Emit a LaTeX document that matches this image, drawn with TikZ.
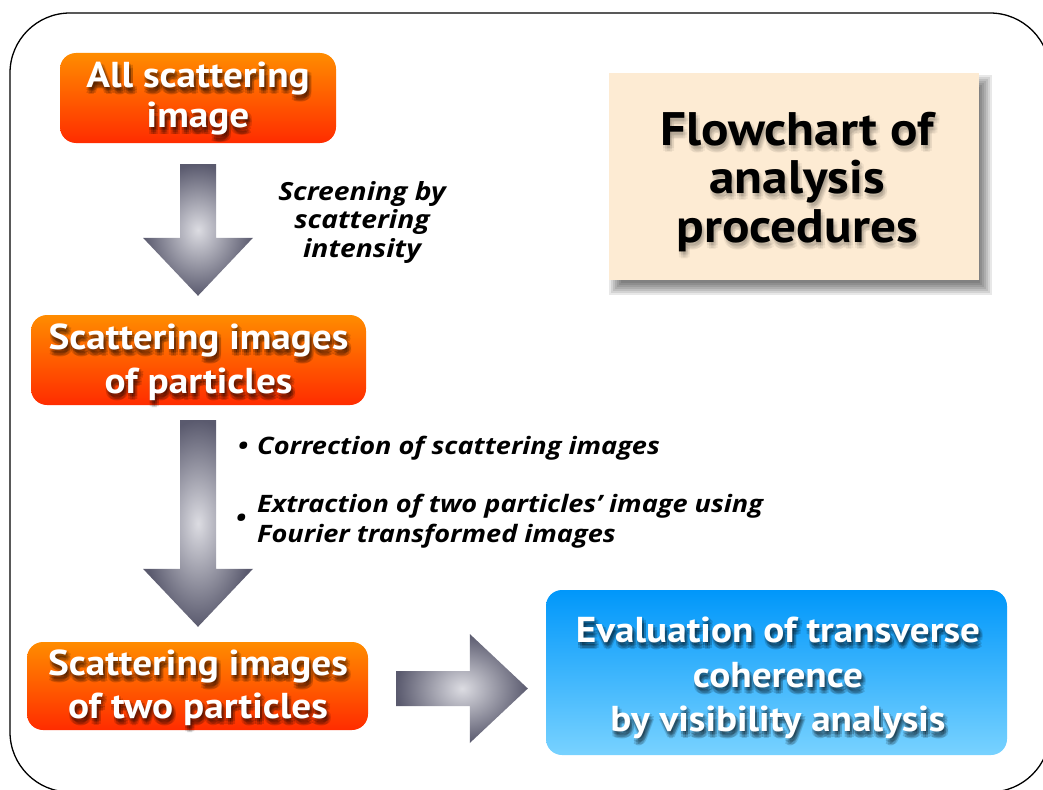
\documentclass[tikz,border=0pt]{standalone}
\usepackage{fontspec}
\setmainfont{PT Sans}
\newfontfamily\boxfont[FakeStretch=1.09]{PT Sans}
\newfontfamily\labfont[FakeStretch=1.13]{Open Sans}
\usetikzlibrary{calc}
\definecolor{otop}{HTML}{FF8C00}
\definecolor{obot}{HTML}{FF2C00}
\definecolor{btop}{HTML}{0097FA}
\definecolor{bbot}{HTML}{78D2FF}
\definecolor{beige}{HTML}{FDEBD3}
\definecolor{ain}{HTML}{DCDCE2}
\definecolor{aout}{HTML}{5A5A6E}
% name, x, y, text, style, anchor, shadow opacity
\newcommand\shline[7]{%
  \foreach \sx/\sy [count=\k] in {2/4,0/3,4/3,0/6,4/6,2/1.5,2/7}{%
    \node[#5, text=black, text opacity=#7, anchor=#6] (#1s\k) at (#2+\sx,#3+\sy) {#4};}
  \node[#5, anchor=#6] (#1) at (#2,#3) {#4};}
\newcommand\vblockarrow[3]{%
  \shade[arrowshade] ($(#1)+(-18,0)$) -- ($(#1)+(18,0)$) -- ($(#2)+(18,-#3)$) -- ($(#2)+(55,-#3)$) -- (#2) -- ($(#2)+(-55,-#3)$) -- ($(#2)+(-18,-#3)$) -- cycle;}
\newcommand\hblockarrow[3]{%
  \shade[arrowshade] ($(#1)+(0,-17.5)$) -- ($(#2)+(-#3,-17.5)$) -- ($(#2)+(-#3,-54.5)$) -- (#2) -- ($(#2)+(-#3,54.5)$) -- ($(#2)+(-#3,17.5)$) -- ($(#1)+(0,17.5)$) -- cycle;}
\begin{document}
\begin{tikzpicture}[x=1pt,y=-1pt,
  obox/.style={rounded corners=16pt, top color=otop, bottom color=obot, draw=none, inner sep=0pt},
  bbox/.style={rounded corners=16pt, top color=btop, bottom color=bbot, draw=none, inner sep=0pt},
  tbox/.style={fill=beige, draw=none, inner sep=0pt},
  wtext/.style={font=\boxfont\fontsize{36}{40}\selectfont\bfseries, text=white, inner sep=0pt},
  ttext/.style={font=\boxfont\fontsize{47}{50}\selectfont\bfseries, text=black, inner sep=0pt},
  itext/.style={font=\labfont\fontsize{25}{30}\selectfont\bfseries\itshape, text=black, inner sep=0pt},
  ltext/.style={font=\labfont\fontsize{24}{30}\selectfont\bfseries\itshape, text=black, inner sep=0pt},
  arrowshade/.style={inner color=ain, outer color=aout},
  frame/.style={draw=black, line width=1.3pt, rounded corners=60pt}]
\useasboundingbox (0,0) rectangle (1043,789);
\fill[white] (0,0) rectangle (1043,789);
\clip (0,0) rectangle (1043,789);
\draw[frame] (10,13) rectangle (1050,792);

% boxes
\node[obox, minimum width=276, minimum height=90] (b1) at (198,98) {};
\node[obox, minimum width=335, minimum height=90] (b2) at (198.5,360) {};
\node[obox, minimum width=341, minimum height=88] (b3) at (197.5,686) {};
\node[bbox, minimum width=461, minimum height=165] (b4) at (776.5,672.5) {};
\coordinate (tc) at (794,176.5);
\foreach \r in {0,2,...,12}{\fill[black, opacity=0.09] ($(tc)+(-185+12-\r,-103.5+14-\r)$) rectangle ($(tc)+(185+\r+1,103.5+\r+3)$);}
\node[tbox, minimum width=370, minimum height=207] (t) at (tc) {};

% arrows
\coordinate (a1s) at ($(b1.south)+(0,21)$);
\coordinate (a1e) at ($(b2.north)+(-0.5,-19)$);
\vblockarrow{a1s}{a1e}{58}
\coordinate (a2s) at ($(b2.south)+(-0.5,15)$);
\coordinate (a2e) at ($(b3.north)+(0.5,-15)$);
\vblockarrow{a2s}{a2e}{58}
\coordinate (a3s) at ($(b3.east)+(28,2.5)$);
\coordinate (a3e) at ($(b4.west)+(-18,16)$);
\hblockarrow{a3s}{a3e}{58}

% box texts
\shline{l1a}{198}{88}{All scattering}{wtext}{base}{0.14}
\shline{l1b}{198}{128}{image}{wtext}{base}{0.14}
\shline{l2a}{198.5}{349}{Scattering images}{wtext}{base}{0.14}
\shline{l2b}{198.5}{393}{of particles}{wtext}{base}{0.14}
\shline{l3a}{198}{675}{Scattering images}{wtext}{base}{0.14}
\shline{l3b}{198}{718}{of two particles}{wtext}{base}{0.14}
\shline{l4a}{778}{642}{Evaluation of transverse}{wtext}{base}{0.14}
\shline{l4b}{778}{687}{coherence}{wtext}{base}{0.14}
\shline{l4c}{778}{731}{by visibility analysis}{wtext}{base}{0.14}
\shline{t1}{797}{145}{Flowchart of}{ttext}{base}{0.05}
\shline{t2}{797}{193}{analysis}{ttext}{base}{0.05}
\shline{t3}{797}{242}{procedures}{ttext}{base}{0.05}

% labels
\node[itext, anchor=base] (s1) at (362,200) {Screening by};
\node[itext, anchor=base] (s2) at (362,228) {scattering};
\node[itext, anchor=base] (s3) at (362,257) {intensity};
\node[ltext, anchor=base] (bu1) at (243,454) {•};
\node[ltext, anchor=base west] (c1) at (257,454) {Correction of scattering images};
\node[ltext, anchor=base] (bu2) at (241,526) {•};
\node[ltext, anchor=base west] (c2) at (257,512) {Extraction of two particles’ image using};
\node[ltext, anchor=base west] (c3) at (257,542) {Fourier transformed images};
\end{tikzpicture}
\end{document}
